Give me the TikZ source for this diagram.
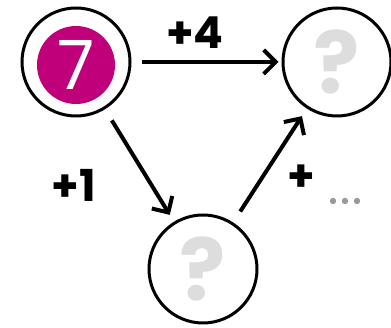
\documentclass[tikz,border=0pt]{standalone}
\usepackage{fontspec}
\setsansfont{Poppins}
\usepackage{tikz}
\usetikzlibrary{arrows.meta}

\definecolor{plum}{HTML}{C0007A}
\definecolor{faint}{HTML}{DDDDDD}
\definecolor{dotgray}{HTML}{999999}

\tikzset{
	numcircle/.style={circle, draw, line width=3pt, minimum size=108pt, inner sep=0pt},
	steparrow/.style={line width=4pt, -{Straight Barb[length=12pt, width=24pt, line width=4pt]}},
	steplabel/.style={font=\sffamily\bfseries\fontsize{44}{44}\selectfont},
	guess/.style={font=\sffamily\bfseries\fontsize{86}{86}\selectfont, text=faint, inner sep=0pt, text depth=0pt}
}

\begin{document}
\begin{tikzpicture}[x=1pt, y=1pt]
		\useasboundingbox (0, 0) rectangle (391, 328);

		\node [numcircle] (seven) at (76, 266) {};
		\node [numcircle] (right) at (337, 266) {};
		\node [numcircle] (below) at (203, 59) {};

		\fill [plum] (seven.center) ++(0, -3) circle (39);
		\node [font=\sffamily\fontsize{68}{68}\selectfont, text=white] (n) at (76, 263) {7};

		\node [guess] (q1) at (right.center) {?};
		\node [guess] (q2) at (below.center) {?};

		\draw [steparrow, shorten <=10pt, shorten >=3pt] (seven) -- (right);
		\draw [steparrow, shorten <=13pt, shorten >=8pt] (seven) -- (below);
		\draw [steparrow, shorten <=13pt, shorten >=9pt] (below) -- (right);

		\node [steplabel] (p4) at (195, 295) {+4};
		\node [steplabel] (p1) at (74, 143) {+1};
		\node [steplabel] (pn) at (301, 150) {+};
		\foreach \x in {333, 345, 357} {
			\fill [dotgray] (\x, 127) circle (3.2);
		}
	\end{tikzpicture}
\end{document}
